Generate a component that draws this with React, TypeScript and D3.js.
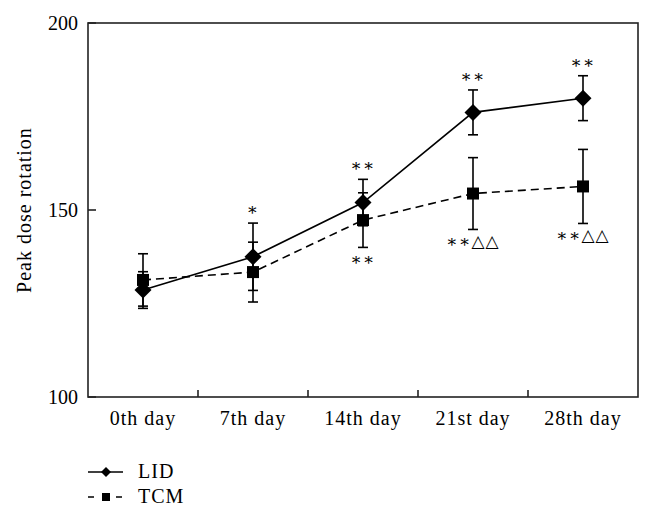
import React from "react";
import * as d3 from "d3";

const categories = ["0th day", "7th day", "14th day", "21st day", "28th day"];
const lidMean = [128.6, 137.5, 152.0, 176.1, 179.9];
const lidErr = [4.9, 9.0, 6.2, 6.0, 6.0];
const tcmMean = [131.3, 133.4, 147.3, 154.4, 156.3];
const tcmErr = [7.0, 8.0, 7.3, 9.6, 9.9];
const lidMarks = ["", "∗", "∗∗", "∗∗", "∗∗"];
const tcmMarks = ["", "", "∗∗", "∗∗△△", "∗∗△△"];
const yTicks = [100, 150, 200];
const seriesNames = ["LID", "TCM"];

const W = 653, H = 518;
const L = 88, R = 638, T = 23, B = 397;
const FONT = "'Liberation Serif', 'DejaVu Serif', serif";

export default function App() {
  const x = d3.scaleBand<string>().domain(categories).range([L, R]).padding(0);
  const y = d3.scaleLinear().domain([100, 200]).range([B, T]);
  const cx = (c: string) => (x(c) as number) + x.bandwidth() / 2;
  const line = d3.line<number>().x((_, i) => cx(categories[i])).y((v) => y(v));
  const diamond = (px: number, py: number, r: number) =>
    `M${px},${py - r}L${px + r},${py}L${px},${py + r}L${px - r},${py}Z`;
  const cap = 5;

  const errBars = (means: number[], errs: number[]) =>
    means.map((m, i) => {
      const px = cx(categories[i]);
      const yt = y(m + errs[i]);
      const yb = y(m - errs[i]);
      return (
        <g key={i} stroke="#000" strokeWidth={1.6}>
          <line x1={px} x2={px} y1={yt} y2={yb} />
          <line x1={px - cap} x2={px + cap} y1={yt} y2={yt} />
          <line x1={px - cap} x2={px + cap} y1={yb} y2={yb} />
        </g>
      );
    });

  return (
    <svg width={W} height={H} style={{ position: "absolute", left: 0, top: 0, background: "#fff" }} fontFamily={FONT}>
      <rect x={0} y={0} width={W} height={H} fill="#fff" />
      {/* frame */}
      <rect x={L} y={T} width={R - L} height={B - T} fill="none" stroke="#222" strokeWidth={1.6} />
      {/* y ticks */}
      {yTicks.map((t) => (
        <g key={t}>
          <line x1={L} x2={L + 8} y1={y(t)} y2={y(t)} stroke="#222" strokeWidth={1.6} />
          <text x={L - 10} y={y(t)} dy="0.33em" textAnchor="end" fontSize={20}>{t}</text>
        </g>
      ))}
      {/* x ticks between categories */}
      {categories.slice(1).map((c) => (
        <line key={c} x1={x(c) as number} x2={x(c) as number} y1={B} y2={B - 7} stroke="#222" strokeWidth={1.6} />
      ))}
      {categories.map((c) => (
        <text key={c} x={cx(c)} y={425} textAnchor="middle" fontSize={20} letterSpacing={1}>{c}</text>
      ))}
      <text transform={`translate(31,${(T + B) / 2}) rotate(-90)`} textAnchor="middle" fontSize={20} letterSpacing={1}>Peak dose rotation</text>

      {/* error bars */}
      {errBars(tcmMean, tcmErr)}
      {errBars(lidMean, lidErr)}

      {/* lines */}
      <path d={line(tcmMean) || ""} fill="none" stroke="#000" strokeWidth={1.6} strokeDasharray="8,5" />
      <path d={line(lidMean) || ""} fill="none" stroke="#000" strokeWidth={1.6} />

      {/* markers */}
      {tcmMean.map((m, i) => (
        <rect key={i} x={cx(categories[i]) - 6} y={y(m) - 6} width={12} height={12} fill="#000" />
      ))}
      {lidMean.map((m, i) => (
        <path key={i} d={diamond(cx(categories[i]), y(m), 8.5)} fill="#000" />
      ))}

      {/* significance marks */}
      {lidMarks.map((s, i) =>
        s ? (
          <text key={i} x={cx(categories[i])} y={y(lidMean[i] + lidErr[i]) - 8} textAnchor="middle" fontSize={17} letterSpacing={1}>{s}</text>
        ) : null
      )}
      {tcmMarks.map((s, i) =>
        s ? (
          <text key={i} x={cx(categories[i])} y={y(tcmMean[i] - tcmErr[i]) + 18} textAnchor="middle" fontSize={17} letterSpacing={1}>{s}</text>
        ) : null
      )}

      {/* legend */}
      <g>
        <line x1={88} x2={123} y1={472} y2={472} stroke="#000" strokeWidth={1.6} />
        <path d={diamond(106, 472, 5)} fill="#000" />
        <text x={138} y={472} dy="0.3em" fontSize={20} letterSpacing={1}>{seriesNames[0]}</text>
        <line x1={88} x2={123} y1={497} y2={497} stroke="#000" strokeWidth={1.6} strokeDasharray="6,8" />
        <rect x={102} y={493} width={8} height={8} fill="#000" />
        <text x={138} y={497} dy="0.3em" fontSize={20} letterSpacing={1}>{seriesNames[1]}</text>
      </g>
    </svg>
  );
}
